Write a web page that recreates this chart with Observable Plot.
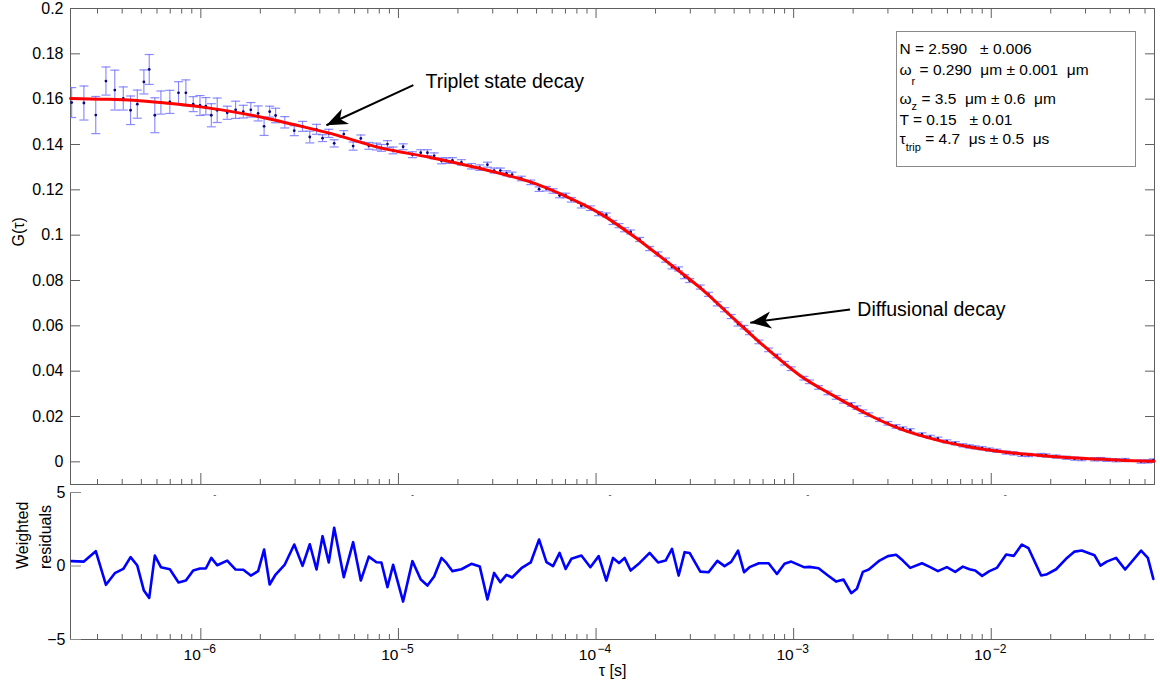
<!DOCTYPE html>
<html><head><meta charset="utf-8">
<script src="https://cdn.jsdelivr.net/npm/d3@7"></script>
<script src="https://cdn.jsdelivr.net/npm/@observablehq/plot@0.6"></script>
<style>
body{margin:0;background:#fff;}
#wrap{position:relative;width:1160px;height:691px;font-family:'Liberation Sans',Arial,sans-serif;background:#fff;overflow:hidden;}
#topchart{position:absolute;left:0;top:0;}
#botchart{position:absolute;left:0;top:486px;}
#wrap svg{overflow:visible;}
#legend{position:absolute;left:896px;top:31px;width:238px;height:134px;border:1px solid #8a8a8a;background:#fff;font-family:'Liberation Sans',Arial,sans-serif;font-size:15.5px;color:#000;white-space:pre;}
#legend .ln{position:absolute;left:2.5px;line-height:15.5px;}
#legend .sb{position:relative;font-size:11px;}
</style></head><body>
<div id="wrap"><div id="topchart"></div><div id="botchart"></div>
<div id="legend">
<div class="ln" style="top:8.5px">N = 2.590   ± 0.006</div>
<div class="ln" style="top:30px">ω<span class="sb" style="top:10px">r</span> = 0.290  μm ± 0.001  μm</div>
<div class="ln" style="top:59px">ω<span class="sb" style="top:6px">z</span> = 3.5  μm ± 0.6  μm</div>
<div class="ln" style="top:80px">T = 0.15   ± 0.01</div>
<div class="ln" style="top:98.5px">τ<span class="sb" style="top:7px">trip</span> = 4.7  μs ± 0.5  μs</div>
</div>
</div>
<script>
// ---- data ----
const tau = [
2.22e-7,2.56e-7,2.94e-7,3.31e-7,3.67e-7,4.05e-7,4.41e-7,4.77e-7,5.15e-7,5.48e-7,
5.85e-7,6.28e-7,6.97e-7,7.71e-7,8.40e-7,9.15e-7,9.90e-7,1.06e-6,1.13e-6,1.21e-6,
1.36e-6,1.50e-6,1.64e-6,1.79e-6,1.95e-6,2.09e-6,2.23e-6,2.39e-6,2.66e-6,2.97e-6,
3.27e-6,3.56e-6,3.85e-6,4.13e-6,4.44e-6,4.73e-6,5.29e-6,5.90e-6,6.45e-6,7.08e-6,
7.74e-6,8.20e-6,8.80e-6,9.40e-6,1.056e-5,1.177e-5,1.297e-5,1.402e-5,1.516e-5,1.651e-5,
1.749e-5,1.876e-5,2.083e-5,2.34e-5,2.58e-5,2.82e-5,3.05e-5,3.28e-5,3.52e-5,3.76e-5,
4.19e-5,4.67e-5,5.15e-5,5.61e-5,6.06e-5,6.54e-5,7.02e-5,7.50e-5,8.43e-5,9.36e-5,
1.031e-4,1.127e-4,1.219e-4,1.307e-4,1.395e-4,1.496e-4,1.662e-4,1.867e-4,2.059e-4,2.249e-4,
2.423e-4,2.617e-4,2.807e-4,2.975e-4,3.37e-4,3.71e-4,4.11e-4,4.47e-4,4.83e-4,5.23e-4,
5.61e-4,5.98e-4,6.67e-4,7.47e-4,8.23e-4,8.99e-4,9.72e-4,1.127e-3,1.203e-3,1.337e-3,
1.491e-3,1.643e-3,1.788e-3,1.956e-3,2.09e-3,2.24e-3,2.40e-3,2.72e-3,3.00e-3,3.30e-3,
3.57e-3,3.89e-3,4.46e-3,4.91e-3,5.37e-3,5.96e-3,6.57e-3,7.18e-3,7.76e-3,8.29e-3,
8.99e-3,9.79e-3,1.067e-2,1.19e-2,1.301e-2,1.428e-2,1.543e-2,1.788e-2,1.896e-2,2.13e-2,
2.39e-2,2.64e-2,2.87e-2,3.33e-2,3.57e-2,3.84e-2,4.28e-2,4.76e-2,5.73e-2,6.20e-2,
6.61e-2];
const G = [
0.1585,0.1583,0.1530,0.1680,0.1640,0.1603,0.1551,0.1578,0.1676,0.1731,
0.1529,0.1585,0.1588,0.1628,0.1628,0.1578,0.1572,0.1569,0.1529,0.1551,
0.1540,0.1553,0.1545,0.1553,0.1537,0.1480,0.1545,0.1528,0.1498,0.1461,
0.1480,0.1433,0.1467,0.1428,0.1449,0.1405,0.1446,0.1393,0.1427,0.1394,
0.1391,0.1385,0.1402,0.1374,0.1390,0.1355,0.1364,0.1364,0.1350,0.1328,
0.1329,0.1330,0.1321,0.1304,0.1298,0.1311,0.1285,0.1285,0.1273,0.1267,
0.1250,0.1233,0.1203,0.1205,0.1195,0.1175,0.1175,0.1156,0.1130,0.1119,
0.1095,0.1089,0.1056,0.1042,0.1024,0.1014,0.0981,0.0941,0.0917,0.0890,
0.0860,0.0851,0.0817,0.0800,0.0771,0.0739,0.0697,0.0671,0.0641,0.0608,
0.0594,0.0569,0.0529,0.0494,0.0467,0.0435,0.0411,0.0369,0.0353,0.0328,
0.0304,0.0284,0.0267,0.0253,0.0239,0.0221,0.0208,0.0186,0.0170,0.0156,
0.0147,0.0139,0.0121,0.0110,0.0102,0.0090,0.0082,0.0073,0.0068,0.0064,
0.0060,0.0054,0.0049,0.0041,0.0037,0.0031,0.0030,0.0030,0.0028,0.0023,
0.0018,0.0014,0.0012,0.0011,0.0012,0.0009,0.0007,0.0008,0.0001,0.0002,
0.0006];
const err = [
0.0066,0.0075,0.0082,0.0062,0.0088,0.0051,0.0063,0.0062,0.0053,0.0066,
0.0077,0.0051,0.0051,0.0049,0.0057,0.0033,0.0044,0.0038,0.0051,0.0054,
0.0029,0.0038,0.0028,0.0032,0.0033,0.0040,0.0024,0.0032,0.0025,0.0022,
0.0022,0.0026,0.0022,0.0015,0.0018,0.0016,0.0015,0.0018,0.0015,0.0015,
0.0015,0.0015,0.0015,0.0015,0.0013,0.0013,0.0013,0.0013,0.0013,0.0013,
0.0012,0.0012,0.0012,0.0012,0.0012,0.0011,0.0011,0.0011,0.0011,0.0011,
0.0010,0.0010,0.0010,0.0010,0.0010,0.0010,0.0010,0.0010,0.0010,0.0010,
0.0009,0.0009,0.0009,0.0009,0.0009,0.0009,0.0009,0.0009,0.0009,0.0009,
0.0009,0.0009,0.0009,0.0009,0.0009,0.0009,0.0009,0.0009,0.0009,0.0009,
0.0008,0.0008,0.0008,0.0008,0.0008,0.0008,0.0008,0.0008,0.0008,0.0008,
0.0008,0.0008,0.0008,0.0008,0.0008,0.0008,0.0008,0.0008,0.0008,0.0008,
0.0007,0.0007,0.0007,0.0007,0.0007,0.0007,0.0007,0.0007,0.0007,0.0007,
0.0007,0.0007,0.0007,0.0007,0.0007,0.0007,0.0007,0.0007,0.0007,0.0007,
0.0007,0.0007,0.0007,0.0007,0.0007,0.0007,0.0007,0.0007,0.0007,0.0007,
0.0007];
const resid = [
0.33,0.30,1.01,-1.28,-0.49,-0.20,0.60,0.03,-1.67,-2.17,
0.71,-0.08,-0.22,-1.12,-0.99,-0.31,-0.17,-0.17,0.55,0.05,
0.37,-0.24,-0.26,-0.65,-0.35,1.12,-1.26,-0.58,0.10,1.46,
0.01,1.48,-0.24,2.03,0.24,2.60,-0.76,1.62,-0.99,0.64,
0.26,0.24,-1.44,0.08,-2.42,0.33,-0.92,-1.33,-0.72,0.55,
0.21,-0.35,-0.22,0.15,-0.04,-2.28,-0.47,-1.10,-0.60,-0.78,
-0.15,0.24,1.80,0.26,-0.01,0.89,-0.20,0.49,0.71,-0.08,
0.67,-0.99,0.55,0.21,0.55,-0.31,0.21,0.89,0.24,0.37,
1.17,-0.65,0.94,0.89,-0.38,-0.42,0.35,-0.01,0.28,1.05,
-0.42,-0.08,0.19,0.19,-0.54,0.15,0.30,-0.08,-0.06,-0.15,
-0.65,-1.06,-0.92,-1.85,-1.55,-0.40,-0.24,0.37,0.67,0.76,
0.37,-0.13,0.19,-0.08,-0.35,-0.08,-0.40,-0.04,-0.22,-0.31,
-0.67,-0.35,-0.13,0.78,0.69,1.46,1.21,-0.65,-0.58,-0.22,
0.49,0.98,1.05,0.73,0.03,0.30,0.55,-0.24,1.05,0.55,
-0.88];
const fitTau = [2.19e-7,3.11e-7,4.57e-7,6.76e-7,9.97e-7,1.46e-6,2.17e-6,3.19e-6,4.53e-6,8.11e-6,
1.45e-5,2.60e-5,3.28e-5,4.65e-5,7.13e-5,1.051e-4,1.55e-4,2.29e-4,3.37e-4,4.97e-4,
7.33e-4,1.08e-3,1.59e-3,2.35e-3,3.46e-3,5.10e-3,7.52e-3,1.109e-2,1.634e-2,2.41e-2,
3.55e-2,5.24e-2,6.67e-2];
const fitG = [0.1603,0.1600,0.1595,0.1582,0.1566,0.1544,0.1515,0.1481,0.1449,0.1385,
0.1343,0.1294,0.1272,0.1235,0.1169,0.1095,0.0995,0.0882,0.0767,0.0632,
0.0499,0.0380,0.0292,0.0211,0.0145,0.0100,0.0068,0.0046,0.0031,0.0019,
0.0012,0.0005,0.0003];
const yTicksTop = [0,0.02,0.04,0.06,0.08,0.1,0.12,0.14,0.16,0.18,0.2];
const yTicksRes = [-5,0,5];
const decades = [1e-6,1e-5,1e-4,1e-3,1e-2];
const decadeExp = ["−6","−5","−4","−3","−2"];
const tauDomain = [2.19e-7, 0.067];
const gDomain = [-0.01, 0.2];
const rDomain = [-5, 5];
// annotations
const annText = ["Triplet state decay","Diffusional decay"];
const annTextTau = [1.37e-5, 2.10e-3];
const annTextG = [0.1676, 0.0671];
const arrTailTau = [1.19e-5, 1.93e-3];
const arrTailG = [0.1662, 0.0672];
const arrTipTau = [4.32e-6, 6.03e-4];
const arrTipG = [0.1485, 0.0614];
const arrAngle = [245, 262.6];

(function(){
const pts = tau.map((t,i)=>({tau:t, G:G[i], err:err[i], r:resid[i]}));
const caps = pts.flatMap(d=>[{tau:d.tau, y:d.G-d.err},{tau:d.tau, y:d.G+d.err}]);
const fit = fitTau.map((t,i)=>({tau:t, G:fitG[i]}));
const ann = annText.map((s,i)=>({s, tau:annTextTau[i], G:annTextG[i]}));
const arrows = arrTipTau.map((t,i)=>({x1:arrTailTau[i], y1:arrTailG[i], x2:t, y2:arrTipG[i], a:arrAngle[i]}));
const isDecade = t => Math.abs(Math.log10(t) - Math.round(Math.log10(t))) < 1e-9;
const minorTicks = d3.scaleLog().domain(tauDomain).ticks().filter(t => !isDecade(t));

const capSymbol = {draw(ctx){ ctx.moveTo(-4.5,0); ctx.lineTo(4.5,0); }};
const headSymbol = {draw(ctx){ ctx.moveTo(0,0); ctx.lineTo(8.5,21); ctx.lineTo(0,15); ctx.lineTo(-8.5,21); ctx.closePath(); }};

const AX = "#5f5f5f";
const FONT = "'Liberation Sans', Arial, sans-serif";
const fmtTop = d => d === 0 ? "0" : String(+d.toFixed(2));

const topPlot = Plot.plot({
  width: 1160, height: 486,
  marginLeft: 70, marginRight: 6, marginTop: 8, marginBottom: 2,
  style: {fontFamily: FONT, fontSize: "16px", color: "black", background: "white", overflow: "visible"},
  x: {type: "log", domain: tauDomain},
  y: {domain: gDomain},
  marks: [
    Plot.frame({stroke: AX}),
    Plot.axisY(yTicksTop, {anchor: "left", tickSize: 0, tickPadding: 7, tickFormat: fmtTop, fontSize: 16, label: null}),
    Plot.axisY(yTicksTop, {anchor: "left", tickSize: -10, tickFormat: () => "", stroke: AX, label: null}),
    Plot.axisY(yTicksTop, {anchor: "right", tickSize: -10, tickFormat: () => "", stroke: AX, label: null}),
    Plot.axisX(decades, {anchor: "top", tickSize: -9, tickFormat: () => "", stroke: AX, label: null}),
    Plot.axisX(minorTicks, {anchor: "top", tickSize: -4.5, tickFormat: () => "", stroke: AX, label: null}),
    Plot.axisX(decades, {anchor: "bottom", tickSize: -11, tickFormat: () => "", stroke: AX, label: null}),
    Plot.axisX(minorTicks, {anchor: "bottom", tickSize: -5, tickFormat: () => "", stroke: AX, label: null}),
    Plot.text(["G(τ)"], {frameAnchor: "left", dx: -52, rotate: -90, fontSize: 16}),
    Plot.ruleX(pts, {x: "tau", y1: d => d.G - d.err, y2: d => d.G + d.err, stroke: "#5b5bff", strokeOpacity: 0.75, strokeWidth: 1.1, clip: true}),
    Plot.dot(caps, {x: "tau", y: "y", symbol: capSymbol, r: 4, fill: "none", stroke: "#6e6eff", strokeOpacity: 0.8, strokeWidth: 1.2, clip: true}),
    Plot.dot(pts, {x: "tau", y: "G", r: 1.4, fill: "#08087a", stroke: "none"}),
    Plot.line(fit, {x: "tau", y: "G", stroke: "#ff0000", strokeWidth: 3, curve: "monotone-x"}),
    Plot.link(arrows, {x1: "x1", y1: "y1", x2: "x2", y2: "y2", stroke: "black", strokeWidth: 2}),
    Plot.dot(arrows, {x: "x2", y: "y2", symbol: headSymbol, r: 5, rotate: "a", fill: "black", stroke: "none"}),
    Plot.text(ann, {x: "tau", y: "G", text: "s", textAnchor: "start", fontSize: 19.5, fill: "black"})
  ]
});
document.getElementById("topchart").appendChild(topPlot);

const botPlot = Plot.plot({
  width: 1160, height: 205,
  marginLeft: 70, marginRight: 6, marginTop: 6, marginBottom: 52,
  style: {fontFamily: FONT, fontSize: "16px", color: "black", background: "transparent", overflow: "visible"},
  x: {type: "log", domain: tauDomain},
  y: {domain: rDomain},
  marks: [
    Plot.ruleX([tauDomain[0]], {stroke: AX}),
    Plot.ruleY([rDomain[0]], {stroke: AX}),
    Plot.axisY(yTicksRes, {anchor: "left", tickSize: 0, tickPadding: 5, tickFormat: d => d < 0 ? "−" + Math.abs(d) : String(d), fontSize: 16, label: null}),
    Plot.axisY(yTicksRes, {anchor: "left", tickSize: -11, tickFormat: () => "", stroke: "#8a8a8a", label: null}),
    Plot.axisX(decades, {anchor: "bottom", tickSize: -11, tickFormat: () => "", stroke: AX, label: null}),
    Plot.axisX(minorTicks, {anchor: "bottom", tickSize: -5, tickFormat: () => "", stroke: AX, label: null}),
    Plot.text(decades, {x: d => d, text: () => "10", frameAnchor: "bottom", dy: 20.5, textAnchor: "end", fontSize: 15.5}),
    Plot.text(decades, {x: d => d, text: (d, i) => decadeExp[i], frameAnchor: "bottom", dy: 13.5, dx: 1.5, textAnchor: "start", fontSize: 12}),
    Plot.text(decades, {x: d => d, text: () => "-", frameAnchor: "top", dx: 14, dy: -0.5, fontSize: 9, fill: "#333"}),
    Plot.text(["τ [s]"], {frameAnchor: "bottom", dy: 36, fontSize: 16}),
    Plot.text(["Weighted\nresiduals"], {frameAnchor: "left", rotate: -90, dx: -38, dy: 3, lineHeight: 1.4, fontSize: 16}),
    Plot.line(pts, {x: "tau", y: "r", stroke: "#0000ff", strokeWidth: 2.6})
  ]
});
document.getElementById("botchart").appendChild(botPlot);
})();
</script>
</body></html>
